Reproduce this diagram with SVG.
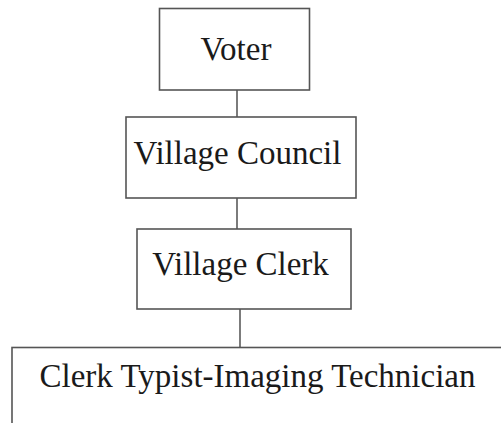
<svg xmlns="http://www.w3.org/2000/svg" width="501" height="423" viewBox="0 0 501 423">
<style>
.box{fill:#fff;stroke:#555;stroke-width:1.6}
.lbl{font-family:"Liberation Serif","Times New Roman",serif;font-size:33px;fill:#1a1a1a;text-anchor:middle}
.con{stroke:#444;stroke-width:1.4;fill:none}
</style>
<rect width="501" height="423" fill="#fff"/>
<g id="connectors">
<line class="con" x1="237" y1="90" x2="237" y2="117"/>
<line class="con" x1="237" y1="198" x2="237" y2="229"/>
<line class="con" x1="240" y1="309" x2="240" y2="348"/>
</g>
<g id="voter">
<rect class="box" x="159.5" y="8.5" width="150" height="81.5"/>
<text class="lbl" x="236" y="60">Voter</text>
</g>
<g id="village-council">
<rect class="box" x="126" y="117" width="230" height="81"/>
<text class="lbl" x="237.5" y="164">Village Council</text>
</g>
<g id="village-clerk">
<rect class="box" x="137" y="229" width="214" height="80"/>
<text class="lbl" x="240.5" y="275">Village Clerk</text>
</g>
<g id="clerk-typist">
<rect class="box" x="12" y="347.5" width="500" height="90"/>
<text class="lbl" x="257.5" y="387">Clerk Typist-Imaging Technician</text>
</g>
</svg>
